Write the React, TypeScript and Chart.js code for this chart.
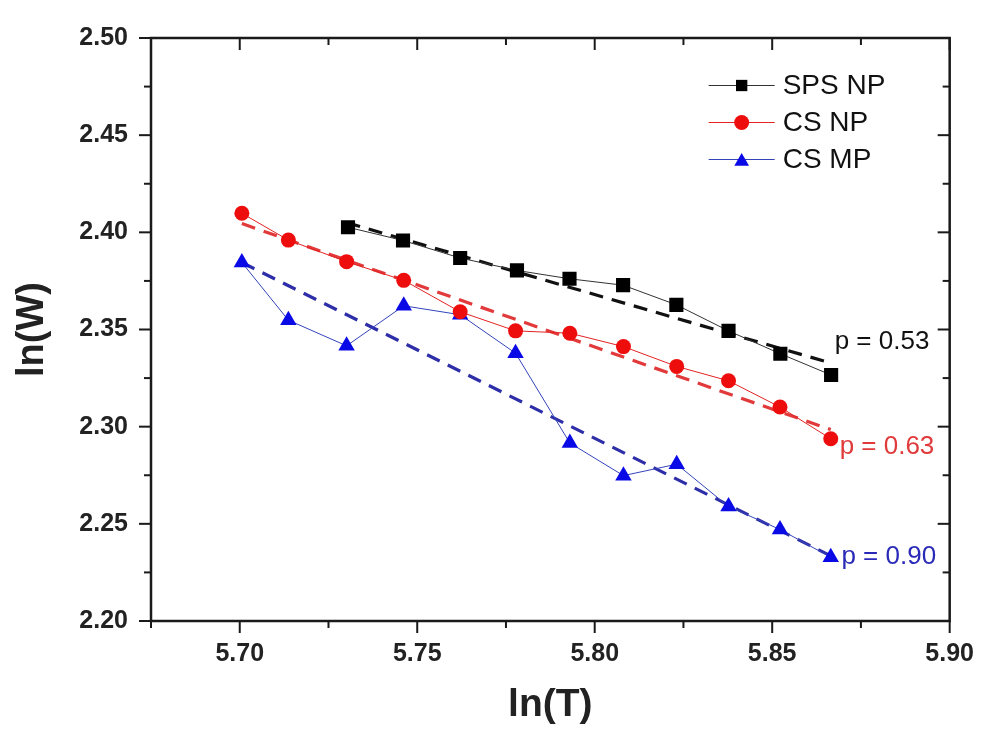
import React, { useEffect, useRef } from "react";
import { Chart, registerables } from "chart.js";

Chart.register(...registerables);

// ---- data ----
const lnT_SPS = [5.7305, 5.746, 5.7621, 5.7781, 5.7929, 5.808, 5.823, 5.8377, 5.8523, 5.8666];
const lnW_SPS_NP = [2.4026, 2.3958, 2.3868, 2.3804, 2.3761, 2.3728, 2.3627, 2.3493, 2.3375, 2.3266];

const lnT_CS = [5.7006, 5.7137, 5.7301, 5.7462, 5.7621, 5.7777, 5.793, 5.8081, 5.8231, 5.8377, 5.8522, 5.8665];
const lnW_CS_NP = [2.4098, 2.396, 2.3849, 2.3753, 2.3591, 2.3493, 2.3481, 2.3412, 2.331, 2.3236, 2.3101, 2.2938];
const lnW_CS_MP = [2.3845, 2.3548, 2.3416, 2.3622, 2.3576, 2.3378, 2.2916, 2.2748, 2.2807, 2.2589, 2.2471, 2.2328];

// linear fits (dashed), end points
const fitSPS_x = [5.7301, 5.8666];
const fitSPS_y = [2.405, 2.3327];
const fitCSNP_x = [5.7006, 5.8665];
const fitCSNP_y = [2.4045, 2.2985];
const fitCSMP_x = [5.7006, 5.8665];
const fitCSMP_y = [2.3845, 2.2335];

// slope annotations
const pTexts = ["p = 0.53", "p = 0.63", "p = 0.90"];
const pX = [5.8676, 5.869, 5.8695];
const pY = [2.3436, 2.2897, 2.2332];
const pColors = ["#111111", "#e03a3a", "#2a2ab8"];

// axes
const xMajor = [5.7, 5.75, 5.8, 5.85, 5.9];
const xMinor = [5.675, 5.725, 5.775, 5.825, 5.875];
const yMajor = [2.2, 2.25, 2.3, 2.35, 2.4, 2.45, 2.5];
const yMinor = [2.225, 2.275, 2.325, 2.375, 2.425, 2.475];

const FONT = "'Liberation Sans', Arial, Helvetica, sans-serif";

const zip = (xs: number[], ys: number[]) => xs.map((x, i) => ({ x, y: ys[i] }));

function marker(ctx: CanvasRenderingContext2D, style: string, r: number, x: number, y: number, color: string) {
  ctx.beginPath();
  if (style === "rect") {
    const s = Math.SQRT1_2 * r;
    ctx.rect(x - s, y - s, 2 * s, 2 * s);
  } else if (style === "triangle") {
    ctx.moveTo(x, y - r);
    ctx.lineTo(x + r * Math.sin((2 * Math.PI) / 3), y - r * Math.cos((2 * Math.PI) / 3));
    ctx.lineTo(x + r * Math.sin((4 * Math.PI) / 3), y - r * Math.cos((4 * Math.PI) / 3));
    ctx.closePath();
  } else {
    ctx.arc(x, y, r, 0, Math.PI * 2);
  }
  ctx.fillStyle = color;
  ctx.fill();
}

const originPlugin = {
  id: "originFrame",
  afterDraw(chart: any) {
    const { ctx, chartArea: a, scales } = chart;
    const xs = scales.x;
    const ys = scales.y;
    ctx.save();
    ctx.strokeStyle = "#1a1a1a";
    ctx.lineWidth = 2.5;
    ctx.strokeRect(a.left, a.top, a.right - a.left, a.bottom - a.top);
    ctx.lineWidth = 2;
    const seg = (x1: number, y1: number, x2: number, y2: number) => {
      ctx.beginPath();
      ctx.moveTo(x1, y1);
      ctx.lineTo(x2, y2);
      ctx.stroke();
    };
    const doX = (vals: number[], len: number) =>
      vals.forEach((v) => {
        const p = xs.getPixelForValue(v);
        seg(p, a.bottom, p, a.bottom + len);
        seg(p, a.top, p, a.top + len);
      });
    const doY = (vals: number[], len: number) =>
      vals.forEach((v) => {
        const p = ys.getPixelForValue(v);
        seg(a.left - len, p, a.left, p);
        seg(a.right - len, p, a.right, p);
      });
    doX(xMajor, 12);
    doX(xMinor, 7);
    doY(yMajor, 12);
    doY(yMinor, 7);

    // p annotations
    ctx.font = `26px ${FONT}`;
    ctx.textAlign = "left";
    ctx.textBaseline = "middle";
    pTexts.forEach((t, i) => {
      ctx.fillStyle = pColors[i];
      ctx.fillText(t, xs.getPixelForValue(pX[i]), ys.getPixelForValue(pY[i]));
    });

    // legend (Origin style: line - marker - line)
    const items = chart.data.datasets.filter((d: any) => d.inLegend);
    const lx0 = a.right - 241;
    const lx1 = a.right - 175;
    const mx = (lx0 + lx1) / 2;
    let ly = a.top + 47.5;
    items.forEach((d: any) => {
      ctx.strokeStyle = d.borderColor;
      ctx.lineWidth = 1;
      seg(lx0, ly, lx1, ly);
      marker(ctx, d.pointStyle, d.legendRadius, mx, d.pointStyle === "triangle" ? ly + 2 : ly, d.pointBackgroundColor);
      ctx.fillStyle = "#111";
      ctx.font = `28px ${FONT}`;
      ctx.textBaseline = "middle";
      ctx.fillText(d.label, lx1 + 8, ly + 1);
      ly += 37;
    });
    ctx.restore();
  },
};

export default function App() {
  const ref = useRef<HTMLCanvasElement>(null);
  useEffect(() => {
    document.body.style.margin = "0";
    const canvas = ref.current!;
    const chart = new Chart(canvas, {
      type: "scatter",
      data: {
        datasets: [
          {
            label: "fit SPS NP",
            data: zip(fitSPS_x, fitSPS_y),
            showLine: true,
            borderColor: "#111111",
            borderWidth: 3.2,
            borderDash: [14, 9],
            pointRadius: 0,
            order: 2,
          },
          {
            label: "fit CS NP",
            data: zip(fitCSNP_x, fitCSNP_y),
            showLine: true,
            borderColor: "#e23a3a",
            borderWidth: 3.2,
            borderDash: [14, 9],
            pointRadius: 0,
            order: 2,
          },
          {
            label: "fit CS MP",
            data: zip(fitCSMP_x, fitCSMP_y),
            showLine: true,
            borderColor: "#2e2ea8",
            borderWidth: 3.2,
            borderDash: [14, 9],
            pointRadius: 0,
            order: 2,
          },
          {
            label: "SPS NP",
            data: zip(lnT_SPS, lnW_SPS_NP),
            showLine: true,
            borderColor: "#333333",
            borderWidth: 1,
            pointStyle: "rect",
            pointRadius: 10,
            pointBackgroundColor: "#000000",
            pointBorderColor: "#000000",
            pointBorderWidth: 0,
            order: 1,
            inLegend: true,
            legendRadius: 8,
          } as any,
          {
            label: "CS NP",
            data: zip(lnT_CS, lnW_CS_NP),
            showLine: true,
            borderColor: "#e32222",
            borderWidth: 1,
            pointStyle: "circle",
            pointRadius: 7.5,
            pointBackgroundColor: "#ee0d0d",
            pointBorderColor: "#ee0d0d",
            pointBorderWidth: 0,
            order: 1,
            inLegend: true,
            legendRadius: 7.5,
          } as any,
          {
            label: "CS MP",
            data: zip(lnT_CS, lnW_CS_MP),
            showLine: true,
            borderColor: "#3344bb",
            borderWidth: 1,
            pointStyle: "triangle",
            pointRadius: 9.5,
            pointBackgroundColor: "#0a0ae6",
            pointBorderColor: "#0a0ae6",
            pointBorderWidth: 0,
            order: 1,
            inLegend: true,
            legendRadius: 8.5,
          } as any,
        ],
      },
      options: {
        responsive: false,
        animation: false,
        layout: { padding: { left: 0, top: 25.5, right: 30, bottom: 0 } },
        plugins: { legend: { display: false }, tooltip: { enabled: false } },
        scales: {
          x: {
            type: "linear",
            min: 5.675,
            max: 5.9,
            afterFit: (s: any) => {
              s.height = 108;
            },
            afterBuildTicks: (s: any) => {
              s.ticks = xMajor.map((v) => ({ value: v }));
            },
            grid: { display: false, drawTicks: false },
            border: { display: false },
            ticks: {
              padding: 18,
              color: "#222",
              font: { family: FONT, size: 25, weight: "bold" },
              callback: (v: any) => Number(v).toFixed(2),
              maxRotation: 0,
              autoSkip: false,
            },
            title: {
              display: true,
              text: "ln(T)",
              color: "#222",
              font: { family: FONT, size: 39, weight: "bold" },
              padding: { top: 0, bottom: 0 },
            },
          },
          y: {
            type: "linear",
            min: 2.2,
            max: 2.5,
            afterFit: (s: any) => {
              s.width = 151;
            },
            afterBuildTicks: (s: any) => {
              s.ticks = yMajor.map((v) => ({ value: v }));
            },
            grid: { display: false, drawTicks: false },
            border: { display: false },
            ticks: {
              padding: 23,
              color: "#222",
              font: { family: FONT, size: 25, weight: "bold" },
              callback: (v: any) => Number(v).toFixed(2),
              autoSkip: false,
            },
            title: {
              display: true,
              text: "ln(W)",
              color: "#222",
              font: { family: FONT, size: 38, weight: "bold" },
              padding: { top: 10, bottom: 0 },
            },
          },
        },
      },
      plugins: [originPlugin],
    });
    return () => chart.destroy();
  }, []);
  return (
    <div style={{ position: "absolute", left: 0, top: 0, width: 992, height: 729, background: "#fff" }}>
      <canvas ref={ref} width={992} height={729} style={{ display: "block" }} />
    </div>
  );
}
